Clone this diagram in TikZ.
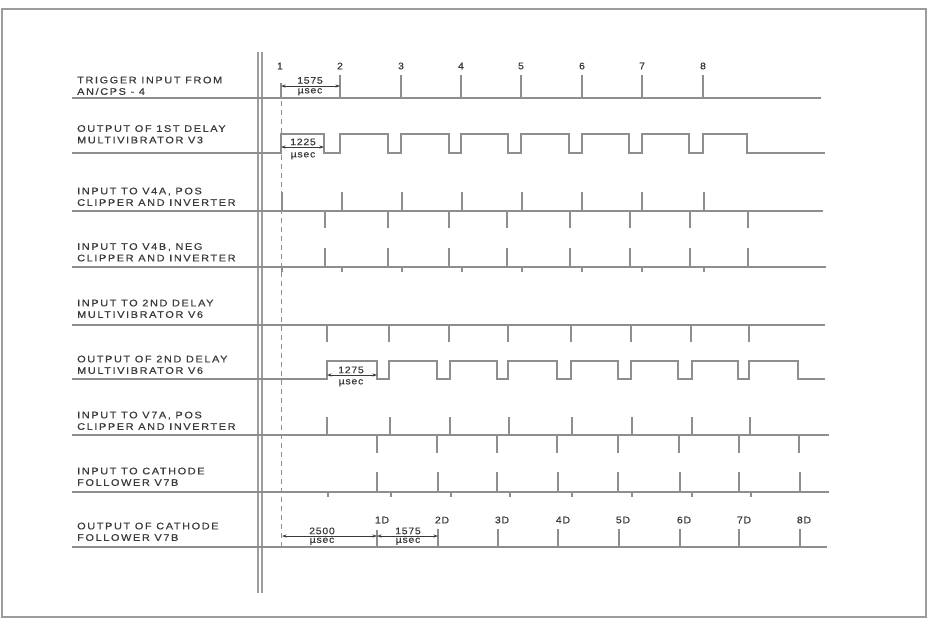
\documentclass[tikz,border=0pt]{standalone}
\usepackage{fontspec}
\setmainfont{Liberation Sans}
\newfontfamily\leroy[FakeStretch=1.15, FakeBold=0.6, LetterSpace=17]{Liberation Sans}
\newfontfamily\leroynum[FakeStretch=1.1, FakeBold=0.6, LetterSpace=8]{Liberation Sans}
\usetikzlibrary{arrows.meta}
\definecolor{ink}{HTML}{3A3A3A}
\definecolor{trace}{HTML}{8E8E8E}
\definecolor{rule}{HTML}{9C9C9C}
\tikzset{
  wave/.style={draw=trace, line width=1.3pt},
  tick/.style={draw=trace, line width=1.2pt},
  lbl/.style={anchor=south west, align=left, inner sep=0pt, text depth=0pt, text=ink, font=\leroy\fontsize{9.5}{11.5}\selectfont},
  num/.style={inner sep=0pt, text=ink, font=\leroynum\fontsize{9.5}{10}\selectfont},
  dim/.style={draw=ink, line width=0.7pt, {Stealth[length=4.5pt,width=3pt]}-{Stealth[length=4.5pt,width=3pt]}},
  ext/.style={draw=trace, line width=1pt, dash pattern=on 5pt off 4pt}
}

\begin{document}
\begin{tikzpicture}[x=1pt,y=-1pt]
\useasboundingbox (0,0) rectangle (928,621);
\draw[draw=rule, line width=1.4pt] (2,9) rectangle (926,617);
\draw[draw=rule, line width=1.2pt] (258,52) -- (258,593) (262,52) -- (262,593);

% signal names
\node[lbl] (trig) at (77,95) {TRIGGER INPUT FROM\\AN/CPS - 4};
\node[lbl] (dlyone) at (77,143.5) {OUTPUT OF 1ST DELAY\\MULTIVIBRATOR V3};
\node[lbl] (posa) at (77,206) {INPUT TO V4A, POS\\CLIPPER AND INVERTER};
\node[lbl] (negb) at (77,261.5) {INPUT TO V4B, NEG\\CLIPPER AND INVERTER};
\node[lbl] (dlyin) at (77,318) {INPUT TO 2ND DELAY\\MULTIVIBRATOR V6};
\node[lbl] (dlyout) at (77,374) {OUTPUT OF 2ND DELAY\\MULTIVIBRATOR V6};
\node[lbl] (posc) at (77,430) {INPUT TO V7A, POS\\CLIPPER AND INVERTER};
\node[lbl] (cfin) at (77,486) {INPUT TO CATHODE\\FOLLOWER V7B};
\node[lbl] (cfout) at (77,541) {OUTPUT OF CATHODE\\FOLLOWER V7B};

% trigger
\draw[wave] (72,98) -- (821,98);
\draw[tick] (281,83) -- (281,98) (340,75) -- (340,98) (401,75) -- (401,98) (461,75) -- (461,98)
  (521,75) -- (521,98) (582,75) -- (582,98) (642,75) -- (642,98) (703,75) -- (703,98);
\node[num] (n1) at (280,66) {1};
\node[num] (n2) at (340,66) {2};
\node[num] (n3) at (401,66) {3};
\node[num] (n4) at (461,66) {4};
\node[num] (n5) at (521,66) {5};
\node[num] (n6) at (582,66) {6};
\node[num] (n7) at (642,66) {7};
\node[num] (n8) at (703,66) {8};

% 1st delay output
\draw[wave] (72,153) -- (281,153) -- (281,134) -- (324,134) -- (324,153) -- (340,153) -- (340,134)
  -- (388,134) -- (388,153) -- (401,153) -- (401,134) -- (449,134) -- (449,153) -- (461,153)
  -- (461,134) -- (508,134) -- (508,153) -- (521,153) -- (521,134) -- (569,134) -- (569,153)
  -- (582,153) -- (582,134) -- (629,134) -- (629,153) -- (642,153) -- (642,134) -- (689,134)
  -- (689,153) -- (703,153) -- (703,134) -- (747,134) -- (747,153) -- (825,153);

% V4A
\draw[wave] (72,211) -- (823,211);
\draw[tick] (282,192) -- (282,211) (342,192) -- (342,211) (402,192) -- (402,211) (462,192) -- (462,211)
  (522,192) -- (522,211) (582,192) -- (582,211) (642,192) -- (642,211) (704,192) -- (704,211);
\draw[tick] (325,211) -- (325,228) (388,211) -- (388,228) (449,211) -- (449,228) (507,211) -- (507,228)
  (570,211) -- (570,228) (630,211) -- (630,228) (690,211) -- (690,228) (748,211) -- (748,228);

% V4B
\draw[wave] (72,267) -- (826,267);
\draw[tick] (325,248) -- (325,267) (388,248) -- (388,267) (449,248) -- (449,267) (507,248) -- (507,267)
  (570,248) -- (570,267) (630,248) -- (630,267) (690,248) -- (690,267) (748,248) -- (748,267);
\draw[tick] (282,267) -- (282,272) (342,267) -- (342,272) (402,267) -- (402,272) (462,267) -- (462,272)
  (522,267) -- (522,272) (582,267) -- (582,272) (642,267) -- (642,272) (704,267) -- (704,272);

% V6 input
\draw[wave] (72,325) -- (825,325);
\draw[tick] (327,325) -- (327,342) (389,325) -- (389,342) (449,325) -- (449,342) (508,325) -- (508,342)
  (571,325) -- (571,342) (631,325) -- (631,342) (691,325) -- (691,342) (749,325) -- (749,342);

% V6 output
\draw[wave] (72,379) -- (327,379) -- (327,361) -- (377,361) -- (377,379) -- (389,379) -- (389,361)
  -- (437,361) -- (437,379) -- (450,379) -- (450,361) -- (497,361) -- (497,379) -- (508,379)
  -- (508,361) -- (557,361) -- (557,379) -- (571,379) -- (571,361) -- (618,361) -- (618,379)
  -- (631,379) -- (631,361) -- (678,361) -- (678,379) -- (692,379) -- (692,361) -- (738,361)
  -- (738,379) -- (749,379) -- (749,361) -- (798,361) -- (798,379) -- (825,379);

% V7A
\draw[wave] (72,435) -- (829,435);
\draw[tick] (327,417) -- (327,435) (390,417) -- (390,435) (450,417) -- (450,435) (509,417) -- (509,435)
  (572,417) -- (572,435) (632,417) -- (632,435) (692,417) -- (692,435) (750,417) -- (750,435);
\draw[tick] (377,435) -- (377,453) (437,435) -- (437,453) (497,435) -- (497,453) (557,435) -- (557,453)
  (618,435) -- (618,453) (679,435) -- (679,453) (739,435) -- (739,453) (799,435) -- (799,453);

% cathode follower input
\draw[wave] (72,492) -- (829,492);
\draw[tick] (377,472) -- (377,492) (438,472) -- (438,492) (497,472) -- (497,492) (558,472) -- (558,492)
  (618,472) -- (618,492) (680,472) -- (680,492) (739,472) -- (739,492) (800,472) -- (800,492);
\draw[tick] (328,492) -- (328,497) (391,492) -- (391,497) (451,492) -- (451,497) (510,492) -- (510,497)
  (572,492) -- (572,497) (632,492) -- (632,497) (692,492) -- (692,497) (751,492) -- (751,497);

% cathode follower output
\draw[wave] (72,547) -- (827,547);
\draw[tick] (377,530) -- (377,547) (438,529) -- (438,547) (498,529) -- (498,547) (558,529) -- (558,547)
  (619,529) -- (619,547) (680,529) -- (680,547) (739,529) -- (739,547) (800,529) -- (800,547);
\node[num] (d1) at (382,520) {1D};
\node[num] (d2) at (442,520) {2D};
\node[num] (d3) at (502,520) {3D};
\node[num] (d4) at (563,520) {4D};
\node[num] (d5) at (623,520) {5D};
\node[num] (d6) at (684,520) {6D};
\node[num] (d7) at (744,520) {7D};
\node[num] (d8) at (804,520) {8D};

% time reference
\draw[ext] (281,83) -- (281,547);

% intervals
\coordinate (pa) at (281,86);
\coordinate (pb) at (340,86);
\draw[dim] (pa) -- (pb);
\node[num, anchor=south] (pw) at (310,84) {1575};
\node[num, anchor=north] (pu) at (310,88) {µsec};

\coordinate (qa) at (281,147);
\coordinate (qb) at (324,147);
\draw[dim] (qa) -- (qb);
\node[num, anchor=south] (qw) at (303,145.5) {1225};
\node[num, anchor=north] (qu) at (303,152) {µsec};

\coordinate (ra) at (327,375);
\coordinate (rb) at (377,375);
\draw[dim] (ra) -- (rb);
\node[num, anchor=south] (rw) at (351,373.5) {1275};
\node[num, anchor=north] (ru) at (351,379) {µsec};

\coordinate (sa) at (282,536);
\coordinate (sb) at (377,536);
\draw[dim] (sa) -- (sb);
\node[num, anchor=south] (sw) at (322,534.5) {2500};
\node[num, anchor=north] (su) at (322,537.5) {µsec};

\coordinate (ta) at (377,536);
\coordinate (tb) at (438,536);
\draw[dim] (ta) -- (tb);
\node[num, anchor=south] (tw) at (408,534.5) {1575};
\node[num, anchor=north] (tu) at (408,537.5) {µsec};
\end{tikzpicture}
\end{document}
